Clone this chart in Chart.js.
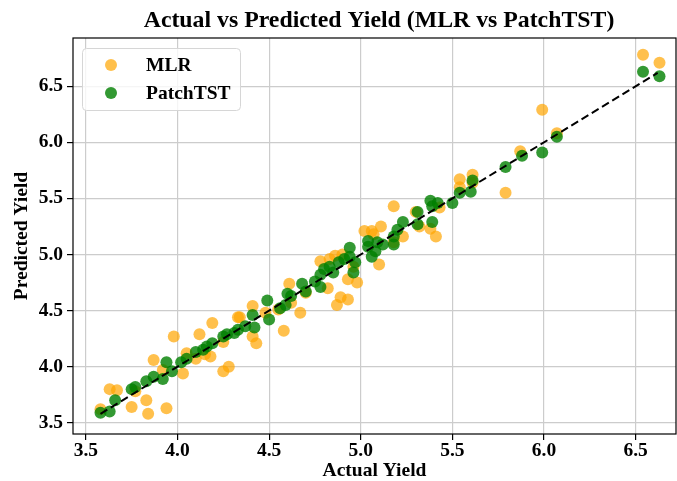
<!DOCTYPE html>
<html>
<head>
<title>Actual vs Predicted Yield</title>
<script src="https://cdn.jsdelivr.net/npm/chart.js"></script>
<style>
    body {
        margin: 0;
        background: #fff;
    }
</style>
</head>
<body>
<canvas id="chart" width="677" height="481"></canvas>
<script>
    // MLR predictions (orange)
    const mlrActual = [3.58, 3.63, 3.67, 3.75, 3.77, 3.83, 3.84, 3.87, 3.92, 3.94, 3.98, 4.03, 4.05, 4.10, 4.12,
        4.15, 4.18, 4.19, 4.25, 4.25, 4.28, 4.33, 4.34, 4.41, 4.41, 4.43, 4.48, 4.55, 4.58, 4.61, 4.62, 4.67, 4.70,
        4.78, 4.82, 4.83, 4.86, 4.87, 4.89, 4.90, 4.93, 4.93, 4.96, 4.98, 5.02, 5.06, 5.07, 5.10, 5.11, 5.18, 5.18,
        5.23, 5.30, 5.32, 5.38, 5.41, 5.43, 5.54, 5.54, 5.61, 5.61, 5.79, 5.87, 5.99, 6.07, 6.54, 6.63];
    const mlrPred = [3.62, 3.80, 3.79, 3.64, 3.78, 3.70, 3.58, 4.06, 3.97, 3.63, 4.27, 3.94, 4.12, 4.07, 4.29,
        4.11, 4.09, 4.39, 4.22, 3.96, 4.00, 4.44, 4.44, 4.54, 4.27, 4.21, 4.48, 4.51, 4.32, 4.74, 4.57, 4.48, 4.66,
        4.94, 4.70, 4.96, 4.99, 4.55, 4.62, 5.00, 4.60, 4.78, 4.89, 4.75, 5.21, 5.21, 5.18, 4.91, 5.25, 5.11, 5.43,
        5.16, 5.38, 5.25, 5.23, 5.16, 5.42, 5.67, 5.60, 5.71, 5.64, 5.55, 5.92, 6.29, 6.08, 6.78, 6.71];

    // PatchTST predictions (green)
    const patchActual = [3.58, 3.63, 3.66, 3.75, 3.77, 3.83, 3.87, 3.92, 3.94, 3.97, 4.02, 4.05, 4.10, 4.14, 4.16,
        4.19, 4.25, 4.27, 4.31, 4.33, 4.37, 4.42, 4.41, 4.49, 4.50, 4.56, 4.59, 4.60, 4.62, 4.68, 4.70, 4.75, 4.78,
        4.78, 4.80, 4.83, 4.85, 4.88, 4.91, 4.94, 4.94, 4.96, 4.97, 5.04, 5.04, 5.06, 5.08, 5.09, 5.12, 5.18, 5.18,
        5.20, 5.23, 5.31, 5.31, 5.39, 5.38, 5.39, 5.42, 5.50, 5.54, 5.60, 5.61, 5.79, 5.88, 5.99, 6.07, 6.54, 6.63];
    const patchPred = [3.59, 3.60, 3.70, 3.80, 3.82, 3.87, 3.91, 3.89, 4.04, 3.96, 4.04, 4.07, 4.13, 4.15, 4.18,
        4.21, 4.27, 4.29, 4.30, 4.33, 4.36, 4.35, 4.46, 4.59, 4.42, 4.52, 4.55, 4.65, 4.63, 4.74, 4.67, 4.76, 4.71,
        4.82, 4.87, 4.89, 4.84, 4.93, 4.96, 5.06, 4.98, 4.84, 4.93, 5.07, 5.12, 4.98, 5.03, 5.11, 5.09, 5.09, 5.16,
        5.22, 5.29, 5.27, 5.38, 5.29, 5.48, 5.43, 5.46, 5.46, 5.55, 5.56, 5.66, 5.78, 5.88, 5.91, 6.05, 6.63, 6.59];

    // perfect-fit reference line
    const fitRange = [3.58, 6.62];

    const axisTicks = [3.5, 4.0, 4.5, 5.0, 5.5, 6.0, 6.5];

    const serif = "'Liberation Serif', 'Times New Roman', serif";

    function toPoints(xs, ys) {
        return xs.map((x, i) => ({ x: x, y: ys[i] }));
    }

    // frame, legend box and title drawn on top
    const decor = {
        id: 'decor',
        afterDraw(chart) {
            const { ctx, chartArea: a } = chart;
            ctx.save();
            ctx.strokeStyle = '#000';
            ctx.lineWidth = 1.2;
            ctx.strokeRect(a.left, a.top, a.right - a.left, a.bottom - a.top);

            // legend
            ctx.beginPath();
            ctx.roundRect(82.5, 48.5, 158, 62, 4);
            ctx.fillStyle = 'rgba(255,255,255,0.8)';
            ctx.fill();
            ctx.strokeStyle = '#d6d6d6';
            ctx.lineWidth = 1;
            ctx.stroke();

            const items = [
                { label: 'MLR', color: 'rgba(255,165,0,0.7)', y: 65 },
                { label: 'PatchTST', color: 'rgba(0,128,0,0.8)', y: 93 }
            ];
            ctx.font = 'bold 19.5px ' + serif;
            ctx.textBaseline = 'middle';
            ctx.textAlign = 'left';
            items.forEach(it => {
                ctx.beginPath();
                ctx.arc(111, it.y, 6, 0, Math.PI * 2);
                ctx.fillStyle = it.color;
                ctx.fill();
                ctx.fillStyle = '#000';
                ctx.fillText(it.label, 146, it.y + 1);
            });

            // title
            ctx.font = 'bold 23.8px ' + serif;
            ctx.textAlign = 'center';
            ctx.fillText('Actual vs Predicted Yield (MLR vs PatchTST)', 379, 21);
            ctx.restore();
        }
    };

    new Chart(document.getElementById('chart'), {
        type: 'scatter',
        data: {
            datasets: [{
                type: 'line',
                label: 'Ideal',
                data: toPoints(fitRange, fitRange),
                borderColor: '#000',
                borderWidth: 2,
                borderDash: [8, 4],
                pointRadius: 0,
                fill: false,
                order: 0
            }, {
                label: 'PatchTST',
                data: toPoints(patchActual, patchPred),
                backgroundColor: 'rgba(0,128,0,0.8)',
                borderWidth: 0,
                pointRadius: 6,
                order: 1
            }, {
                label: 'MLR',
                data: toPoints(mlrActual, mlrPred),
                backgroundColor: 'rgba(255,165,0,0.7)',
                borderWidth: 0,
                pointRadius: 6,
                order: 2
            }]
        },
        options: {
            responsive: false,
            animation: false,
            devicePixelRatio: 1,
            layout: {
                autoPadding: false,
                padding: { top: 38, right: 1, left: 0, bottom: 0 }
            },
            plugins: {
                legend: { display: false },
                title: { display: false },
                tooltip: { enabled: false }
            },
            scales: {
                x: {
                    type: 'linear',
                    min: 3.43,
                    max: 6.72,
                    afterFit: s => { s.height = 47; s.paddingLeft = 0; s.paddingRight = 0; },
                    afterBuildTicks: s => { s.ticks = axisTicks.map(v => ({ value: v })); },
                    border: { display: false },
                    grid: { color: '#cccccc', lineWidth: 1.2, tickLength: 6, tickColor: '#000' },
                    ticks: {
                        color: '#000',
                        padding: -1,
                        maxRotation: 0,
                        font: { family: serif, size: 19.5, weight: 'bold' },
                        callback: v => v.toFixed(1)
                    },
                    title: {
                        display: true,
                        text: 'Actual Yield',
                        color: '#000',
                        padding: { top: 0, bottom: 0 },
                        font: { family: serif, size: 19.5, weight: 'bold', lineHeight: 1 }
                    }
                },
                y: {
                    type: 'linear',
                    min: 3.40,
                    max: 6.93,
                    afterFit: s => { s.width = 73; s.paddingTop = 0; s.paddingBottom = 0; },
                    afterBuildTicks: s => { s.ticks = axisTicks.map(v => ({ value: v })); },
                    border: { display: false },
                    grid: { color: '#cccccc', lineWidth: 1.2, tickLength: 6, tickColor: '#000' },
                    ticks: {
                        color: '#000',
                        padding: 4,
                        font: { family: serif, size: 19.5, weight: 'bold' },
                        callback: v => v.toFixed(1)
                    },
                    title: {
                        display: true,
                        text: 'Predicted Yield',
                        color: '#000',
                        padding: { top: 10, bottom: 0 },
                        font: { family: serif, size: 19.5, weight: 'bold' }
                    }
                }
            }
        },
        plugins: [decor]
    });
</script>
</body>
</html>
